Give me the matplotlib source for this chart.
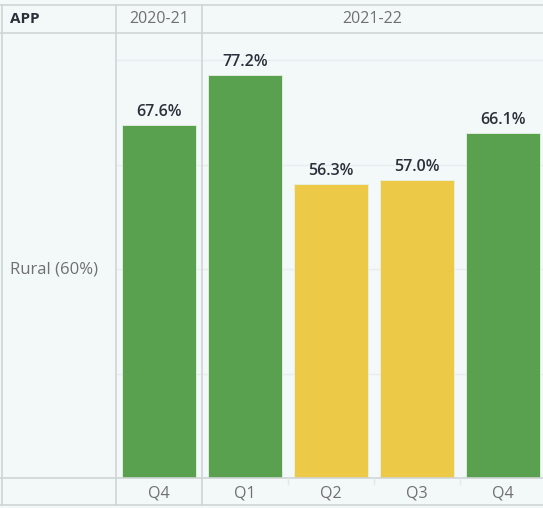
import matplotlib
matplotlib.use("Agg")
import matplotlib.pyplot as plt
from matplotlib.lines import Line2D

# ---- data ----
quarters = ["Q4", "Q1", "Q2", "Q3", "Q4"]
years = ["2020-21", "2021-22"]
year_counts = [1, 4]
values = [67.6, 77.2, 56.3, 57.0, 66.1]
row_label = "Rural (60%)"
target = 60.0
corner_label = "APP"

GREEN = "#59a14f"
YELLOW = "#edc948"
BG = "#f3f8f9"
LINE = "#d0d4d6"
GRID = "#e9edef"
TEXT_GRAY = "#707070"
TEXT_DARK = "#2a2f3a"

W, H = 543, 508
fig = plt.figure(figsize=(W / 100, H / 100), dpi=100, facecolor=BG)
plt.rcParams['font.family'] = ['Open Sans', 'DejaVu Sans']

def fx(px):
    return px / W

def fy(py):
    return 1 - py / H

# plot axes
left_px, right_px, top_px, bot_px = 116, 546, 33, 478
ax = fig.add_axes([fx(left_px), fy(bot_px), fx(right_px - left_px), fy(top_px) - fy(bot_px)])
ax.set_facecolor(BG)
n = len(values)
xs = list(range(n))
colors = [GREEN if v >= target else YELLOW for v in values]
ax.bar(xs, values, width=0.86, color=colors, edgecolor="#e9f0e6", linewidth=0.6, zorder=3)
ax.set_xlim(-0.5, n - 0.5)
ax.set_ylim(0, 85.2)
ax.set_yticks([20, 40, 60, 80])
ax.grid(axis="y", color=GRID, linewidth=1, zorder=0)
ax.tick_params(left=False, bottom=False, labelleft=False, labelbottom=False)
for s in ax.spines.values():
    s.set_visible(False)
for x, v in zip(xs, values):
    ax.annotate(f"{v:.1f}%", (x, v), xytext=(0, 3.5), textcoords="offset points",
                ha="center", va="bottom", fontsize=11.5, color=TEXT_DARK,
                fontweight="semibold", zorder=4)

# table lines
def hline(y, x0=0, x1=W, color=LINE, lw=1.2):
    fig.add_artist(Line2D([fx(x0), fx(x1)], [fy(y), fy(y)], color=color, lw=lw, zorder=10))

def vline(x, y0, y1, color=LINE, lw=1.2):
    fig.add_artist(Line2D([fx(x), fx(x)], [fy(y0), fy(y1)], color=color, lw=lw, zorder=10))

hline(5)
hline(33)
hline(478)
hline(505)
vline(1.5, 5, 505)
vline(116, 5, 505)
# year separators
bar_px = (right_px - left_px) / n
cum = 0
for c in year_counts[:-1]:
    cum += c
    vline(left_px + cum * bar_px, 5, 505)
# faint tick separators in bottom row
for i in range(2, n):
    vline(left_px + i * bar_px, 478, 484, color="#e3e7e9", lw=1)

# header texts
fig.text(fx(10), fy(19), corner_label, ha="left", va="center", fontsize=11,
         fontweight="bold", color=TEXT_DARK)
cum = 0
for yname, c in zip(years, year_counts):
    x0 = left_px + cum * bar_px
    x1 = min(left_px + (cum + c) * bar_px, W)
    fig.text(fx((x0 + x1) / 2), fy(19), yname, ha="center", va="center",
             fontsize=11.5, color=TEXT_GRAY)
    cum += c

# row label
fig.text(fx(10), fy(270), row_label, ha="left", va="center", fontsize=12, color=TEXT_GRAY)

# quarter labels
for i, q in enumerate(quarters):
    fig.text(fx(left_px + (i + 0.5) * bar_px), fy(493), q, ha="center", va="center",
             fontsize=11.5, color=TEXT_GRAY)

fig.savefig("out.png", dpi=100, facecolor=BG)
